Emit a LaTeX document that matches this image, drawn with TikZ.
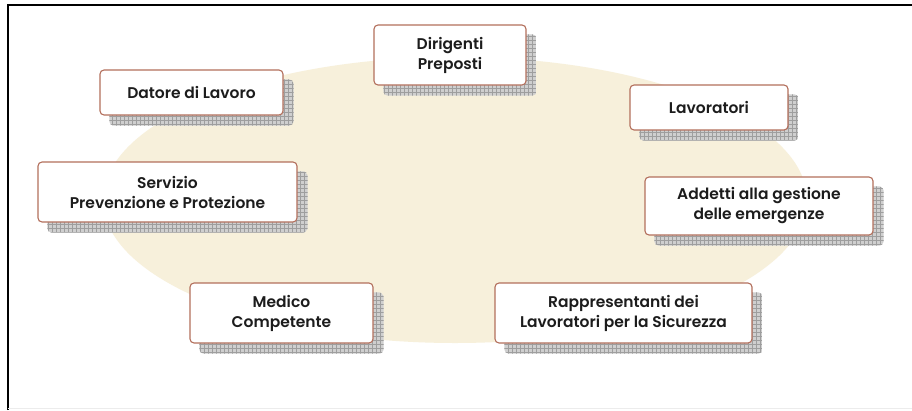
\documentclass[tikz,border=0pt]{standalone}
\usepackage{fontspec}
\setmainfont{Poppins}[BoldFont={Poppins SemiBold}]
\usetikzlibrary{backgrounds,calc}
\definecolor{beige}{HTML}{F7F0DB}
\definecolor{boxline}{HTML}{B36F5C}
\definecolor{txt}{HTML}{1C1C1C}
\definecolor{shadefill}{HTML}{CFCFCF}
\definecolor{shadeline}{HTML}{9E9E9E}
\tikzset{
  box/.style={draw=boxline, line width=1.1pt, fill=white, rounded corners=4pt,
    align=center, font=\fontsize{15.5}{20}\selectfont\bfseries, text=txt, inner sep=0pt},
  shadowbox/.style={fill=shadefill},
  shadowgrid/.style={draw=shadeline, line width=0.5pt}
}
\newcommand{\boxshadow}[1]{%
  \begin{scope}[rounded corners=4pt]
  \clip ($(#1.south west)+(10,10)$) rectangle ($(#1.north east)+(10,10)$);
  \fill[shadowbox] ($(#1.south west)+(10,10)$) rectangle ($(#1.north east)+(10,10)$);
  \draw[shadowgrid, step=4pt] ($(#1.north west)+(10,10)$) grid ($(#1.south east)+(10,10)$);
  \end{scope}}
\begin{document}
\begin{tikzpicture}[x=1pt,y=-1pt]
\useasboundingbox (0,0) rectangle (912,410);
\node[box, minimum width=152pt, minimum height=60pt] (dir) at (450,55) {Dirigenti\\Preposti};
\node[box, minimum width=183pt, minimum height=45pt] (dat) at (191.5,92.5) {Datore di Lavoro};
\node[box, minimum width=158pt, minimum height=45pt] (lav) at (709,107.5) {Lavoratori};
\node[box, minimum width=259pt, minimum height=60pt] (spp) at (167.5,192) {Servizio\\Prevenzione e Protezione};
\node[box, minimum width=228pt, minimum height=58pt] (add) at (759,206) {Addetti alla gestione\\delle emergenze};
\node[box, minimum width=183pt, minimum height=60pt] (med) at (281.5,313) {Medico\\Competente};
\node[box, minimum width=257pt, minimum height=60pt] (rls) at (623.5,313) {Rappresentanti dei\\Lavoratori per la Sicurezza};
\begin{scope}[on background layer]
  \fill[white] (0,0) rectangle (912,410);
  \fill[beige] (455,200) ellipse [x radius=352, y radius=143];
  \boxshadow{dir}\boxshadow{dat}\boxshadow{lav}\boxshadow{spp}
  \boxshadow{add}\boxshadow{med}\boxshadow{rls}
\end{scope}
\draw[line width=2pt] (7.5,410) -- (7.5,4.5) -- (912,4.5);
\draw[gray!15, line width=1pt] (7.5,408) -- (912,408);
\end{tikzpicture}
\end{document}
